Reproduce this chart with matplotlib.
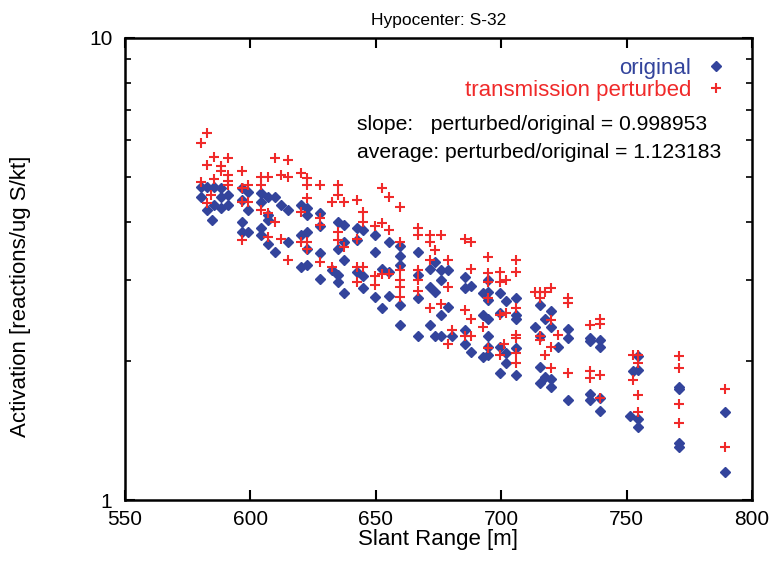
import matplotlib
matplotlib.use("Agg")
import matplotlib.pyplot as plt
from matplotlib.ticker import LogLocator, NullFormatter, FixedLocator, FixedFormatter

plt.rcParams['font.family'] = ['Liberation Sans', 'DejaVu Sans']

# original (blue diamonds): slant range [m], activation
orig_x = [580.2, 582.8, 585.5, 588.1, 580.2, 588.1, 590.9, 585.5, 590.9, 582.8, 588.1, 584.5,
          596.5, 599.1, 596.5, 599.1, 596.5, 596.5, 599.1,
          604.2, 607.1, 609.8, 604.2, 612.2, 614.8, 620.1, 622.4, 622.4, 627.7, 607.1, 607.1, 627.7,
          604.2, 604.2, 622.4, 620.1, 607.1, 614.8, 622.4, 609.8, 627.7, 620.1, 622.4, 627.7,
          634.9, 637.5, 642.4, 645.1, 642.4, 649.7, 655.1, 637.5, 634.9, 637.5, 649.7, 632.5, 634.9,
          634.9, 642.4, 645.1, 652.4, 655.1, 637.5, 645.1, 649.7, 655.1, 652.4,
          659.6, 659.6, 659.6, 666.9, 666.9, 666.9, 659.6, 671.5, 673.5, 676.2, 678.8, 671.5, 673.5,
          676.2, 678.8, 676.2, 671.5, 666.9, 673.5, 676.2, 680.2, 659.6,
          685.5, 688.1, 685.5, 694.7, 692.8, 694.7, 694.7, 699.4, 702.1, 706.1, 706.1, 706.1, 692.8,
          694.7, 699.4, 715.3, 720.0, 717.3, 720.0, 713.3, 726.6, 726.6, 722.6, 715.3, 685.5, 685.5,
          688.1, 694.7, 694.7, 699.4, 702.1, 692.8, 694.7, 702.1, 706.1, 699.4, 706.1, 715.3, 717.3,
          720.0, 715.3, 720.0, 726.6,
          735.3, 735.3, 739.5, 739.5, 735.3, 735.3, 739.5, 739.5, 752.5, 754.5, 754.5, 751.5, 754.5,
          754.5, 771.1, 771.1, 771.1, 771.1, 789.4, 789.4]
orig_y = [4.76, 4.76, 4.76, 4.73, 4.53, 4.53, 4.57, 4.35, 4.35, 4.24, 4.28, 4.04,
          4.73, 4.65, 4.46, 4.24, 4.00, 3.81, 3.81,
          4.61, 4.53, 4.53, 4.42, 4.35, 4.24, 4.35, 4.28, 4.14, 4.19, 4.14, 4.04, 3.91,
          3.87, 3.75, 3.81, 3.75, 3.59, 3.62, 3.50, 3.45, 3.42, 3.20, 3.23, 3.01,
          4.00, 3.94, 3.88, 3.84, 3.66, 3.75, 3.62, 3.62, 3.50, 3.31, 3.45, 3.14, 3.07,
          2.97, 3.11, 3.05, 3.17, 3.11, 2.80, 2.87, 2.75, 2.77, 2.60,
          3.55, 3.37, 3.23, 3.45, 3.07, 2.73, 2.64, 3.17, 3.28, 3.14, 3.14, 2.89, 2.82,
          2.99, 2.62, 2.52, 2.39, 2.27, 2.27, 2.27, 2.26, 2.39,
          3.04, 2.90, 2.87, 2.99, 2.80, 2.82, 2.71, 2.80, 2.69, 2.73, 2.52, 2.47, 2.52,
          2.47, 2.54, 2.64, 2.56, 2.47, 2.37, 2.37, 2.35, 2.24, 2.14, 2.27, 2.33, 2.18,
          2.09, 2.27, 2.14, 2.14, 2.08, 2.04, 2.06, 1.98, 2.13, 1.88, 1.86, 1.94, 1.85,
          1.83, 1.79, 1.76, 1.65,
          2.24, 2.21, 2.22, 2.14, 1.70, 1.65, 1.66, 1.56, 1.90, 1.91, 2.05, 1.52, 1.50,
          1.44, 1.76, 1.74, 1.33, 1.30, 1.55, 1.15]

# transmission perturbed (red crosses)
pert_x = [582.8, 580.2, 585.5, 590.9, 582.8, 588.1, 588.1, 596.5, 590.9, 585.5, 590.9, 590.9,
          599.1, 580.2, 584.1, 596.5, 596.5, 599.1, 582.8, 596.5,
          609.8, 614.8, 604.2, 607.1, 612.2, 614.8, 620.1, 622.4, 622.4, 627.7, 604.2, 622.4, 604.2,
          607.1, 620.1, 627.7, 627.7, 609.8, 607.1, 612.2, 620.1, 622.4, 614.8, 627.7, 622.4,
          634.9, 634.9, 632.5, 637.5, 642.4, 652.4, 655.1, 645.1, 645.1, 649.7, 652.4, 655.1, 634.9,
          634.9, 637.5, 642.4, 632.5, 642.4, 645.1, 642.4, 649.7, 649.7, 652.4, 655.1,
          659.6, 666.9, 666.9, 671.5, 671.5, 676.2, 673.5, 659.6, 671.5, 678.8, 659.6, 659.6, 659.6,
          659.6, 666.9, 666.9, 666.9, 678.8, 671.5, 676.2, 680.2, 678.8,
          685.5, 688.1, 694.7, 706.1, 706.1, 688.1, 694.7, 694.7, 699.4, 699.4, 702.1, 694.7, 713.3,
          715.3, 717.3, 720.0, 715.3, 726.6, 726.6, 699.4, 702.1, 685.5, 688.1, 706.1, 692.8, 685.5,
          688.1, 720.0, 722.6, 706.1, 706.1, 715.3, 715.3, 701.3, 699.4, 694.7, 720.0, 717.3, 706.1,
          706.1, 720.0, 726.6,
          735.3, 739.5, 739.5, 735.3, 735.3, 739.5, 739.5, 752.5, 754.5, 754.5, 752.5, 754.5, 754.5,
          771.1, 771.1, 771.1, 771.1, 789.4, 789.4]
pert_y = [6.22, 5.92, 5.53, 5.49, 5.31, 5.29, 5.16, 5.16, 5.05, 4.95, 4.90, 4.81,
          4.81, 4.87, 4.57, 4.73, 4.42, 4.42, 4.39, 3.65,
          5.49, 5.44, 5.01, 5.01, 5.06, 5.01, 5.10, 4.97, 4.81, 4.81, 4.81, 4.50, 4.24,
          4.17, 4.21, 4.07, 3.94, 4.00, 3.71, 3.68, 3.62, 3.62, 3.31, 3.28, 3.50,
          4.81, 4.57, 4.42, 4.42, 4.46, 4.73, 4.53, 4.21, 4.00, 3.91, 3.97, 3.84, 3.81,
          3.66, 3.53, 3.68, 3.20, 3.20, 3.20, 2.97, 3.05, 2.92, 3.09, 3.09,
          4.31, 3.87, 3.75, 3.75, 3.62, 3.75, 3.48, 3.62, 3.31, 3.31, 3.14, 2.99, 2.89,
          2.75, 3.14, 2.99, 2.84, 2.89, 2.61, 2.66, 2.33, 2.18,
          3.68, 3.62, 3.36, 3.31, 3.12, 3.17, 3.10, 2.97, 3.12, 2.97, 2.99, 2.73, 2.82,
          2.82, 2.82, 2.87, 2.73, 2.73, 2.67, 2.52, 2.54, 2.58, 2.47, 2.60, 2.37, 2.26,
          2.27, 2.45, 2.28, 2.28, 2.24, 2.27, 2.22, 2.18, 2.06, 2.13, 2.14, 2.06, 2.08,
          1.98, 1.93, 1.88,
          2.39, 2.46, 2.41, 1.90, 1.84, 1.86, 1.66, 2.06, 2.06, 1.98, 1.82, 1.69, 1.55,
          2.05, 1.93, 1.61, 1.47, 1.74, 1.30]

x_ticks = [550, 600, 650, 700, 750, 800]
y_ticks = [1, 10]
title = "Hypocenter: S-32"
x_label = "Slant Range [m]"
y_label = "Activation [reactions/ug S/kt]"
note1 = "slope:   perturbed/original = 0.998953"
note2 = "average: perturbed/original = 1.123183"

blue = "#33449c"
red = "#f02a2a"

fig = plt.figure(figsize=(7.73, 5.61), dpi=100)
ax = fig.add_axes([0.1617, 0.1087, 0.8111, 0.8236])

ax.plot(orig_x, orig_y, linestyle='none', marker='D', markersize=5.2,
        color=blue, markeredgecolor=blue, label='original')
ax.plot(pert_x, pert_y, linestyle='none', marker='+', markersize=6.5,
        markeredgewidth=1.5, color=red, label='transmission perturbed')

ax.set_yscale('log')
ax.set_xlim(550, 800)
ax.set_ylim(1, 10)
ax.xaxis.set_major_locator(FixedLocator(x_ticks))
ax.yaxis.set_major_locator(FixedLocator(y_ticks))
ax.yaxis.set_major_formatter(FixedFormatter([str(v) for v in y_ticks]))
ax.yaxis.set_minor_locator(LogLocator(base=10, subs=range(2, 10)))
ax.yaxis.set_minor_formatter(NullFormatter())

ax.tick_params(which='both', direction='in', top=True, right=True, labelsize=15)
ax.tick_params(axis='x', pad=7)
ax.tick_params(axis='y', pad=9)
ax.tick_params(which='major', length=7, width=1.5)
ax.tick_params(which='minor', length=4, width=1.2)
for s in ax.spines.values():
    s.set_linewidth(1.8)

ax.set_title(title, fontsize=12.5, pad=9)
ax.set_xlabel(x_label, fontsize=16, labelpad=0)
ax.set_ylabel(y_label, fontsize=16)
ax.yaxis.set_label_coords(-0.15, 0.44)

leg = ax.legend(loc='upper right', frameon=False, markerfirst=False, fontsize=16,
                handlelength=1.0, handletextpad=0.6, borderaxespad=0.3,
                labelspacing=0.05, bbox_to_anchor=(0.985, 0.99))
for t, c in zip(leg.get_texts(), [blue, red]):
    t.set_color(c)
    t.set_ha('right')

ax.text(0.37, 0.812, note1, transform=ax.transAxes, fontsize=15.2, va='center', ha='left')
ax.text(0.37, 0.752, note2, transform=ax.transAxes, fontsize=15.2, va='center', ha='left')

fig.savefig("out.png", dpi=100)
